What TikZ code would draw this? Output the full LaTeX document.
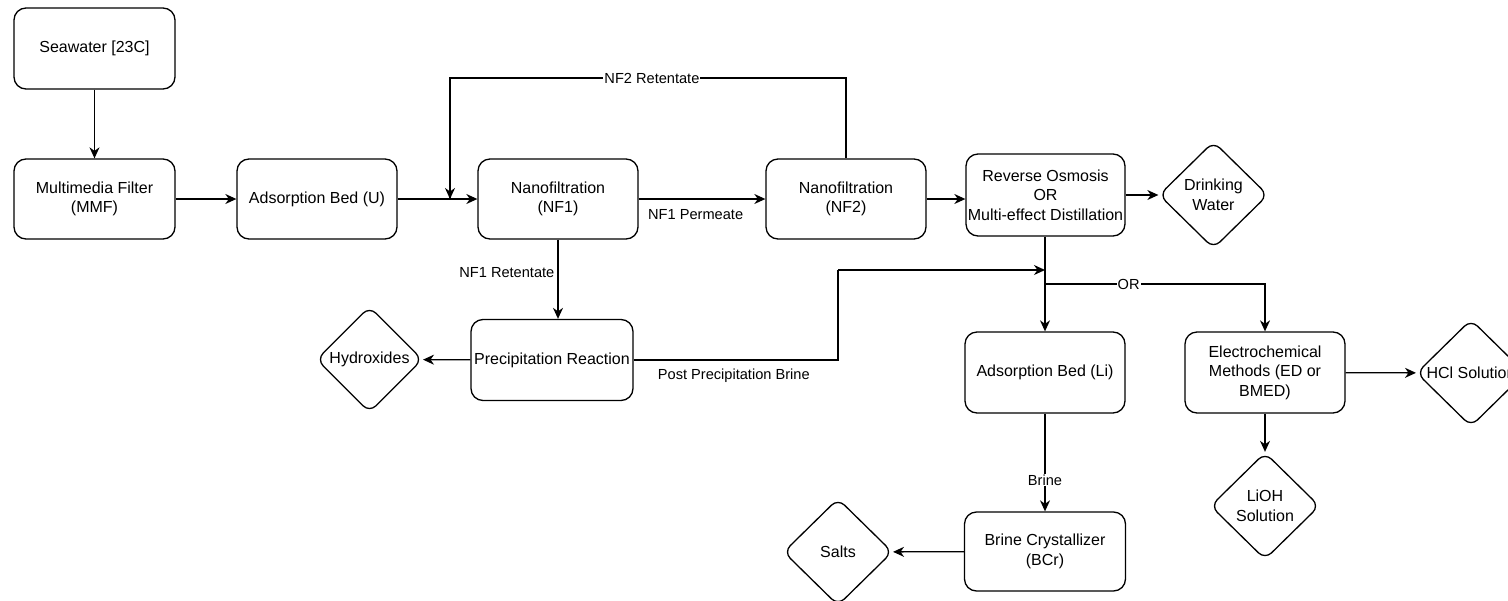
\documentclass[tikz,border=0pt]{standalone}
\usepackage{fontspec}
\setmainfont{Liberation Sans}
\usetikzlibrary{arrows.meta,shapes.geometric}
\newcommand\boxfont{\fontsize{16}{19.5}\selectfont}
\newcommand\lblfont{\fontsize{14.6}{17}\selectfont}
\tikzset{
  procbox/.style={draw, rounded corners=12pt, minimum width=160pt, minimum height=81pt,
    align=center, font=\boxfont, inner sep=0pt, line width=1.3pt},
  dia/.style={draw, diamond, rounded corners=9pt, minimum width=109pt, minimum height=107pt,
    inner sep=0pt, line width=1.3pt},
  dtext/.style={align=center, font=\boxfont},
  flow/.style={line width=1.3pt, -{Stealth[length=11pt,width=10pt,inset=3.5pt]}},
  plain/.style={line width=1.3pt},
  elbl/.style={font=\lblfont, inner sep=1pt},
}
\begin{document}
\begin{tikzpicture}[x=1pt,y=-1pt]
\useasboundingbox[fill=white] (0,0) rectangle (1508,600);
% process boxes
\node[procbox, minimum width=161pt] (sea) at (94.5,48.5) {Seawater [23C]};
\node[procbox, minimum width=161pt, minimum height=80pt] (mmf) at (94.5,199) {Multimedia Filter\\(MMF)};
\node[procbox, minimum height=80pt] (adsu) at (317,199) {Adsorption Bed (U)};
\node[procbox, minimum height=80pt] (nf1) at (558,199) {Nanofiltration\\(NF1)};
\node[procbox, minimum height=80pt] (nf2) at (846,199) {Nanofiltration\\(NF2)};
\node[procbox, minimum width=159pt, minimum height=82pt] (ro) at (1045.5,195) {Reverse Osmosis\\OR\\Multi-effect Distillation};
\node[procbox, minimum width=162pt] (prec) at (552,360) {Precipitation Reaction};
\node[procbox] (adsli) at (1045,372.5) {Adsorption Bed (Li)};
\node[procbox] (el) at (1265,372.5) {Electrochemical\\Methods (ED or\\BMED)};
\node[procbox, minimum width=161pt, minimum height=79pt] (bcr) at (1045,551.5) {Brine Crystallizer\\(BCr)};
% diamonds
\node[dia] (dw) at (1213.5,195) {};
\node[dtext] (dwt) at (dw.center) {Drinking\\Water};
\node[dia, minimum width=106pt, minimum height=106pt] (hyd) at (369.5,359.5) {};
\node[dtext] (hydt) at (hyd.center) {Hydroxides};
\node[dia] (hcl) at (1471,373) {};
\node[dtext] (hclt) at (hcl.center) {HCl Solution};
\node[dia] (lioh) at (1265,506) {};
\node[dtext] (lioht) at (lioh.center) {LiOH\\Solution};
\node[dia] (salts) at (838,552) {};
\node[dtext] (saltst) at (salts.center) {Salts};
% connector corner points
\coordinate (r1) at (846,78);
\coordinate (r2) at (450,78);
\coordinate (r3) at (450,199);
\coordinate (p1) at (838,360);
\coordinate (p2) at (838,270);
\coordinate (p3) at (1045,270);
\coordinate (o1) at (1045,284);
\coordinate (o2) at (1265,284);
% connectors
\draw[flow] (sea) -- (mmf);
\draw[flow] (mmf) -- (adsu);
\draw[flow] (adsu) -- (nf1);
\draw[flow] (nf1) -- node[elbl, below=9pt, pos=0.45] (lperm) {NF1 Permeate} (nf2);
\draw[plain] (nf2.north) -- (r1) -- node[elbl, fill=white, pos=0.49] (lret2) {NF2 Retentate} (r2) -- (r3);
\draw[flow] (r2) -- (r3);
\draw[flow] (nf2.east) -- (nf2.east -| ro.west);
\draw[flow] (ro) -- (dw);
\draw[flow] (nf1.south) -- node[elbl, left=2pt, pos=0.42] (lret1) {NF1 Retentate} (nf1.south |- prec.north);
\draw[flow] (prec) -- (hyd);
\draw[plain] (prec.east) -- node[elbl, below=7pt, pos=0.49] (lpost) {Post Precipitation Brine} (p1) -- (p2);
\draw[flow] (p2) -- (p3);
\draw[flow] (ro.south -| adsli.north) -- (adsli.north);
\draw[flow] (o1) -- node[elbl, fill=white, pos=0.38] (lor) {OR} (o2) -- (el.north);
\draw[flow] (el) -- (hcl);
\draw[flow] (el) -- (lioh);
\draw[flow] (adsli) -- node[elbl, fill=white, pos=0.68] (lbrine) {Brine} (bcr);
\draw[flow] (bcr) -- (salts);
\end{tikzpicture}
\end{document}
